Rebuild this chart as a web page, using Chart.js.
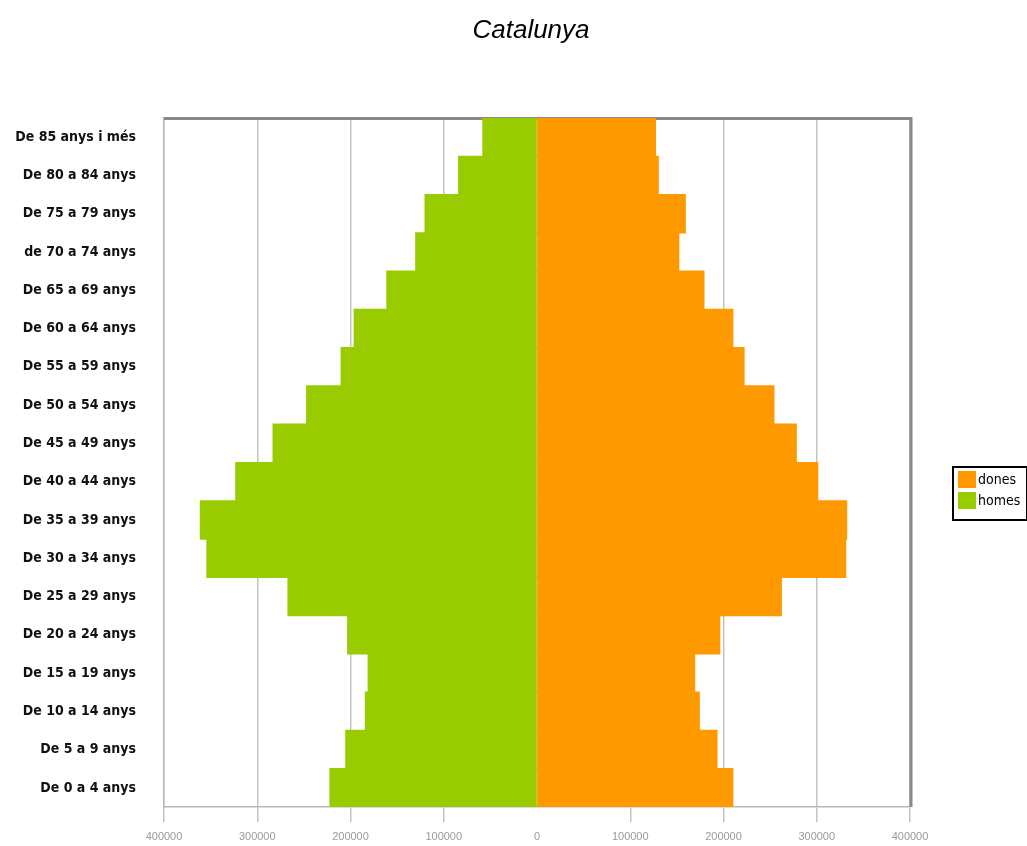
<!DOCTYPE html>
<html>
<head>
<meta charset="utf-8">
<script src="https://cdn.jsdelivr.net/npm/chart.js@4/dist/chart.umd.min.js"></script>
<style>
  html, body { margin: 0; padding: 0; background: #fff; }
  #wrap { width: 1027px; height: 846px; position: relative; }
</style>
</head>
<body>
<div id="wrap"><canvas id="c" width="1027" height="846"></canvas></div>
<script>
const titleText = "Catalunya";
const categories = [
  "De 85 anys i més", "De 80 a 84 anys", "De 75 a 79 anys", "de 70 a 74 anys",
  "De 65 a 69 anys", "De 60 a 64 anys", "De 55 a 59 anys", "De 50 a 54 anys",
  "De 45 a 49 anys", "De 40 a 44 anys", "De 35 a 39 anys", "De 30 a 34 anys",
  "De 25 a 29 anys", "De 20 a 24 anys", "De 15 a 19 anys", "De 10 a 14 anys",
  "De 5 a 9 anys", "De 0 a 4 anys"
];
const homes = [58000, 84000, 120000, 130000, 161000, 196000, 210000, 247000, 283000,
  323000, 361000, 354000, 267000, 203000, 181000, 184000, 205000, 222000];
const dones = [127000, 130000, 159000, 152000, 179000, 210000, 222000, 254000, 278000,
  301000, 332000, 331000, 262000, 196000, 169000, 174000, 193000, 210000];
const xTicks = [-400000, -300000, -200000, -100000, 0, 100000, 200000, 300000, 400000];

const GREEN = "#99CC00";
const ORANGE = "#FF9900";

const framePlugin = {
  id: "frame",
  beforeDatasetsDraw(chart) {
    const { ctx, chartArea: a } = chart;
    ctx.save();
    ctx.strokeStyle = "#8a8a8a";
    ctx.lineWidth = 3;
    ctx.beginPath();
    ctx.moveTo(a.left, a.top + 0.5);
    ctx.lineTo(a.right + 1, a.top + 0.5);
    ctx.lineTo(a.right + 1, a.bottom);
    ctx.stroke();
    ctx.restore();
  },
  afterDraw(chart) {
    const { ctx } = chart;
    ctx.save();
    // title
    ctx.fillStyle = "#000";
    ctx.font = "italic 26px 'Liberation Sans', Arial, sans-serif";
    ctx.textAlign = "center";
    ctx.textBaseline = "middle";
    ctx.fillText(titleText, 531, 31);
    // legend
    const bx = 952, by = 466, bw = 76, bh = 55;
    ctx.strokeStyle = "#000";
    ctx.lineWidth = 2;
    ctx.strokeRect(bx + 1, by + 1, bw - 2, bh - 2);
    const items = [
      { label: chart.data.datasets[1].label, color: chart.data.datasets[1].backgroundColor },
      { label: chart.data.datasets[0].label, color: chart.data.datasets[0].backgroundColor }
    ];
    ctx.font = "14px 'DejaVu Sans Condensed', 'Liberation Sans Narrow', sans-serif";
    ctx.textAlign = "left";
    items.forEach((it, i) => {
      const y = 471 + i * 21;
      ctx.fillStyle = it.color;
      ctx.fillRect(958, y, 18, 17);
      ctx.fillStyle = "#000";
      ctx.fillText(it.label, 978, y + 9);
    });
    ctx.restore();
  }
};

new Chart(document.getElementById("c"), {
  type: "bar",
  data: {
    labels: categories,
    datasets: [
      { label: "homes", data: homes.map(v => -v), backgroundColor: GREEN, borderWidth: 0,
        barPercentage: 1, categoryPercentage: 1, inflateAmount: 0.6 },
      { label: "dones", data: dones, backgroundColor: ORANGE, borderWidth: 0,
        barPercentage: 1, categoryPercentage: 1, inflateAmount: 0.6 }
    ]
  },
  options: {
    indexAxis: "y",
    responsive: false,
    animation: false,
    layout: { padding: { top: 118, right: 117, left: 0, bottom: 0 } },
    plugins: {
      legend: { display: false },
      title: { display: false },
      tooltip: { enabled: false }
    },
    scales: {
      x: {
        stacked: true,
        min: -400000,
        max: 400000,
        afterBuildTicks(s) { s.ticks = xTicks.map(v => ({ value: v })); },
        afterFit(s) { s.height = 39; },
        grid: {
          color: c => (c.tick && c.tick.value === 0) ? "rgba(0,0,0,0)" : "#c4c4c4",
          lineWidth: 1.5, tickLength: 15, drawTicks: true
        },
        border: { display: true, color: "#b8b8b8", width: 1.5 },
        ticks: {
          autoSkip: false, maxRotation: 0, padding: 8,
          color: "#9a9a9a",
          font: { family: "'Liberation Sans', Arial, sans-serif", size: 11 },
          callback: v => String(Math.abs(v))
        }
      },
      y: {
        stacked: true,
        afterFit(s) { s.width = 164; },
        grid: { display: false, drawTicks: false },
        border: { display: true, color: "#b8b8b8", width: 1.5 },
        ticks: {
          padding: 28,
          color: "#111",
          font: { family: "'DejaVu Sans Condensed', 'Liberation Sans Narrow', sans-serif", size: 14, weight: "bold" }
        }
      }
    }
  },
  plugins: [framePlugin]
});
</script>
</body>
</html>
